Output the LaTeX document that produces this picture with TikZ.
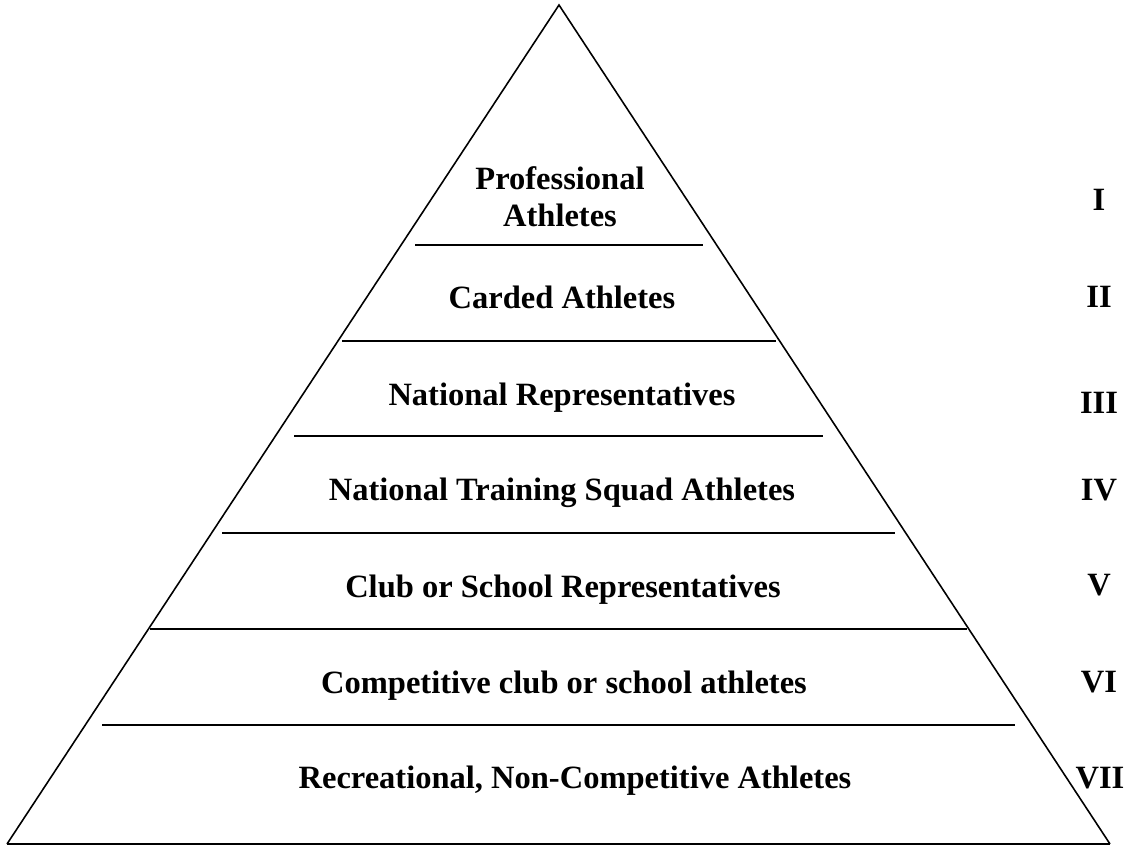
\documentclass[tikz,border=0pt]{standalone}
\usepackage{fontspec}
\setmainfont{Liberation Serif}

\begin{document}
\begin{tikzpicture}[x=0.02cm, y=-0.02cm,
        tier/.style={font=\bfseries\fontsize{18.5}{21}\selectfont, inner sep=0pt, anchor=base},
        rank/.style={tier},
        divider/.style={line width=1.1pt},
        side/.style={line width=0.9pt}]
            \useasboundingbox (0,0) rectangle (1127,846);

            \coordinate (apex) at (559,5);
            \coordinate (bl)   at (7,844);
            \coordinate (br)   at (1110,844);
            \draw[side] (bl) -- (apex) -- (br);
            \draw[divider] (bl) -- (br);

            % tier dividers
            \foreach \y/\a/\b in {245/415/703, 341/342/776, 436/294/823,
                                  533/222/895, 629/150/967, 725/102/1015}
                \draw[divider] (\a,\y) -- (\b,\y);

            \node[tier, align=center, anchor=center] (pro) at (560,197) {Professional\\Athletes};
            \node[tier] (card) at (562,308) {Carded Athletes};
            \node[tier] (nrep) at (562,405) {National Representatives};
            \node[tier] (nts)  at (562,500) {National Training Squad Athletes};
            \node[tier] (club) at (563,597) {Club or School Representatives};
            \node[tier] (comp) at (564,693) {Competitive club or school athletes};
            \node[tier] (rec)  at (575,788) {Recreational, Non-Competitive Athletes};

            \node[rank] (r1) at (1099,210) {I};
            \node[rank] (r2) at (1099,307) {II};
            \node[rank] (r3) at (1099,413) {III};
            \node[rank] (r4) at (1099,500) {IV};
            \node[rank] (r5) at (1099,595) {V};
            \node[rank] (r6) at (1099,692) {VI};
            \node[rank] (r7) at (1100,788) {VII};
        \end{tikzpicture}
\end{document}
